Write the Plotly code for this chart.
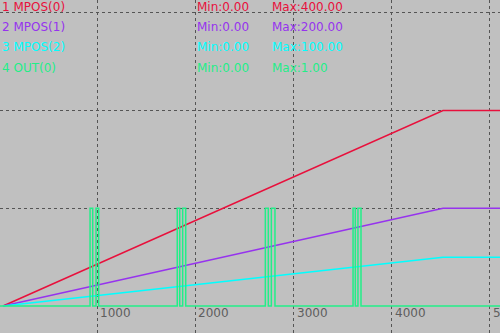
import plotly.graph_objects as go

# ---- data ----
ramp_t = [39, 4524, 5200]
mpos0 = [0, 400, 400]
mpos1 = [0, 200, 200]
mpos2 = [0, 100, 100]
out_t = [0, 926, 953, 987, 1014, 1815, 1840, 1870, 1901, 2713, 2743, 2774, 2811,
         3607, 3630, 3657, 3688, 5200]
out0 = [0, 1, 0, 1, 0, 1, 0, 1, 0, 1, 0, 1, 0, 1, 0, 1, 0, 0]
names = ["1 MPOS(0)", "2 MPOS(1)", "3 MPOS(2)", "4 OUT(0)"]
mins = ["Min:0.00", "Min:0.00", "Min:0.00", "Min:0.00"]
maxs = ["Max:400.00", "Max:200.00", "Max:100.00", "Max:1.00"]
colors = ["#e8103c", "#9633ee", "#00ffff", "#22ee88"]
xticks = [1000, 2000, 3000, 4000, 5000]
xtick_labels = ["1000", "2000", "3000", "4000", "5000"]

fig = go.Figure()
for y, c in zip([mpos0, mpos1, mpos2], colors[:3]):
    fig.add_trace(go.Scatter(x=ramp_t, y=y, mode="lines",
                             line=dict(color=c, width=1.5), showlegend=False))
fig.add_trace(go.Scatter(x=out_t, y=out0, mode="lines", yaxis="y2",
                         line=dict(color=colors[3], width=1.5, shape="hv"),
                         showlegend=False))

grid = dict(showgrid=True, gridcolor="#555555", griddash="3px,3px", gridwidth=1,
            zeroline=False, showticklabels=False, ticks="", showline=False)
fig.update_layout(
    width=500, height=333, margin=dict(l=0, r=0, t=0, b=0),
    paper_bgcolor="#c0c0c0", plot_bgcolor="#c0c0c0",
    xaxis=dict(range=[8, 5105], tickvals=xticks, **grid),
    yaxis=dict(range=[-55.3, 626.4], tickvals=[200, 400, 600], **grid),
    yaxis2=dict(range=[-0.2765, 3.132], overlaying="y", showgrid=False,
                zeroline=False, showticklabels=False, ticks=""),
    font=dict(family="DejaVu Sans", size=12),
)

rows_y = [7.5, 27.5, 47.5, 67.5]
for i in range(4):
    py = 1 - rows_y[i] / 333
    for txt, px in [(names[i], 0), (mins[i], 195), (maxs[i], 270)]:
        fig.add_annotation(x=px / 500, y=py, xref="paper", yref="paper",
                           xanchor="left", yanchor="middle", text=txt,
                           showarrow=False, font=dict(color=colors[i], size=12))

for v, lab in zip(xticks, xtick_labels):
    fig.add_annotation(x=v, y=1 - 313 / 333, xref="x", yref="paper",
                       xanchor="left", yanchor="middle", xshift=1, text=lab,
                       showarrow=False, font=dict(color="#5e5e5e", size=12))

fig.write_html("out.html")
